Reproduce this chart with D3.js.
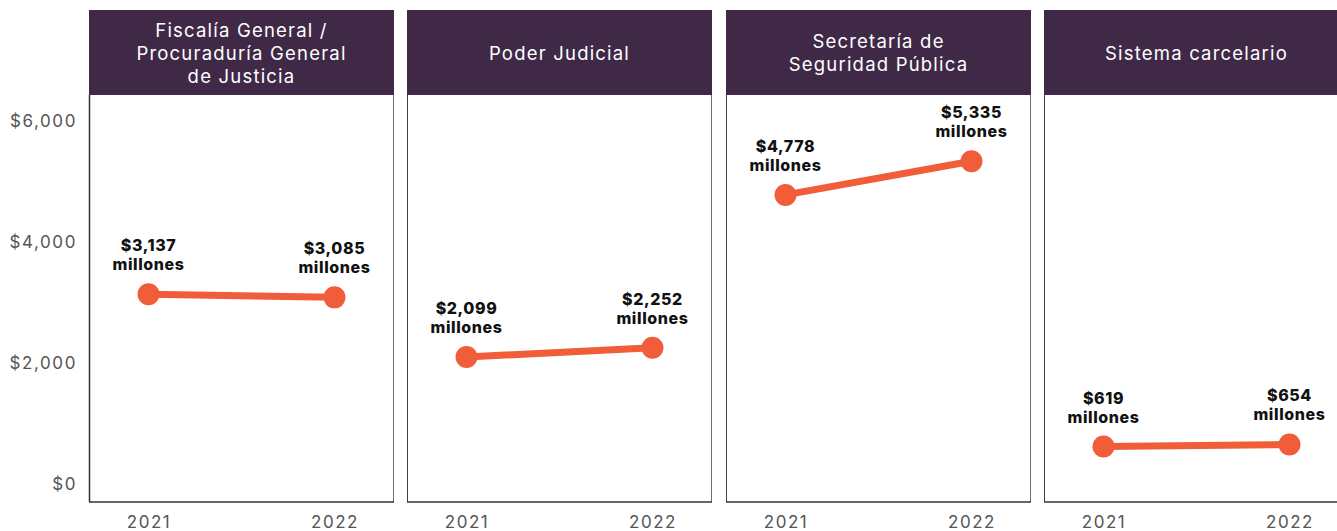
<!DOCTYPE html>
<html>
<head>
<meta charset="utf-8">
<script src="https://cdn.jsdelivr.net/npm/d3@7"></script>
<style>
  body { margin: 0; background: #fff; }
  svg text { font-family: Inter, "Open Sans", sans-serif; }
</style>
</head>
<body>
<div id="chart"></div>
<script>
// data
var panels = [
  ['Fiscalía General /', 'Procuraduría General', 'de Justicia'],
  ['Poder Judicial'],
  ['Secretaría de', 'Seguridad Pública'],
  ['Sistema carcelario']
];
var years = ['2021', '2022'];
var values2021 = [3137, 2099, 4778, 619];
var values2022 = [3085, 2252, 5335, 654];
var yTicks = [0, 2000, 4000, 6000];

var width = 1337,
    height = 531;

var panelW = 305,
    step = 318.3,
    left = 89,
    headTop = 10,
    headBottom = 95,
    bodyBottom = 502;

var svg = d3.select('#chart').append('svg')
    .attr('width', width)
    .attr('height', height);

var y = d3.scaleLinear()
    .domain([0, 6000])
    .range([484, 121]);

var x = d3.scalePoint()
    .domain(years)
    .range([0, panelW])
    .padding(0.32);

var fmt = d3.format('$,');

// y axis labels
var yaxis = d3.axisLeft(y)
    .tickValues(yTicks)
    .tickFormat(function(d) { return fmt(d); })
    .tickSize(0)
    .tickPadding(12);

svg.append('g')
    .attr('transform', 'translate(' + left + ',0)')
    .call(yaxis)
    .call(function(g) { g.select('.domain').remove(); })
    .selectAll('text')
    .attr('font-size', '17px')
    .attr('letter-spacing', '1.6px')
    .attr('fill', '#555');

panels.forEach(function(title, i) {
    var g = svg.append('g')
        .attr('transform', 'translate(' + Math.round(left + i * step) + ',0)');

    // header strip
    g.append('rect')
        .attr('x', 0)
        .attr('y', headTop)
        .attr('width', panelW)
        .attr('height', headBottom - headTop)
        .attr('fill', '#3f2947');

    var midY = (headTop + headBottom) / 2 + 1;
    var lh = 23;
    g.append('text')
        .attr('text-anchor', 'middle')
        .attr('fill', '#fff')
        .attr('font-size', '18.5px')
        .attr('letter-spacing', '1.2px')
        .selectAll('tspan')
        .data(title)
        .enter().append('tspan')
        .attr('x', panelW / 2)
        .attr('y', function(d, j) { return midY + (j - (title.length - 1) / 2) * lh; })
        .attr('dy', '0.35em')
        .text(function(d) { return d; });

    // panel frame
    g.append('line')
        .attr('x1', panelW - 0.5).attr('x2', panelW - 0.5)
        .attr('y1', headBottom).attr('y2', bodyBottom)
        .attr('stroke', '#7a6680')
        .attr('stroke-width', 1);
    g.append('line')
        .attr('x1', 0.5).attr('x2', 0.5)
        .attr('y1', headBottom).attr('y2', bodyBottom)
        .attr('stroke', i == 0 ? '#333' : '#4a3a50')
        .attr('stroke-width', i == 0 ? 1.5 : 1);
    g.append('line')
        .attr('x1', 0).attr('x2', panelW)
        .attr('y1', bodyBottom).attr('y2', bodyBottom)
        .attr('stroke', '#3a3040')
        .attr('stroke-width', 1.5);

    // x axis labels
    var xaxis = d3.axisBottom(x).tickSize(0).tickPadding(14);
    g.append('g')
        .attr('transform', 'translate(0,' + bodyBottom + ')')
        .call(xaxis)
        .call(function(a) { a.select('.domain').remove(); })
        .selectAll('text')
        .attr('font-size', '17px')
        .attr('letter-spacing', '1.5px')
        .attr('fill', '#555');

    var pts = [
        { year: years[0], value: values2021[i] },
        { year: years[1], value: values2022[i] }
    ];

    g.append('path')
        .datum(pts)
        .attr('fill', 'none')
        .attr('stroke', '#f15d38')
        .attr('stroke-width', 7)
        .attr('d', d3.line()
            .x(function(d) { return x(d.year); })
            .y(function(d) { return y(d.value); }));

    g.selectAll('circle')
        .data(pts)
        .enter().append('circle')
        .attr('cx', function(d) { return x(d.year); })
        .attr('cy', function(d) { return y(d.value); })
        .attr('r', 11)
        .attr('fill', '#f15d38');

    var lab = g.selectAll('text.lab')
        .data(pts)
        .enter().append('text')
        .attr('class', 'lab')
        .attr('text-anchor', 'middle')
        .attr('font-size', '16px')
        .attr('font-weight', '800')
        .attr('letter-spacing', '0.6px')
        .attr('fill', '#111');
    lab.append('tspan')
        .attr('x', function(d) { return x(d.year); })
        .attr('y', function(d) { return y(d.value) - 43; })
        .text(function(d) { return fmt(d.value); });
    lab.append('tspan')
        .attr('x', function(d) { return x(d.year); })
        .attr('y', function(d) { return y(d.value) - 24; })
        .text('millones');
});
</script>
</body>
</html>
